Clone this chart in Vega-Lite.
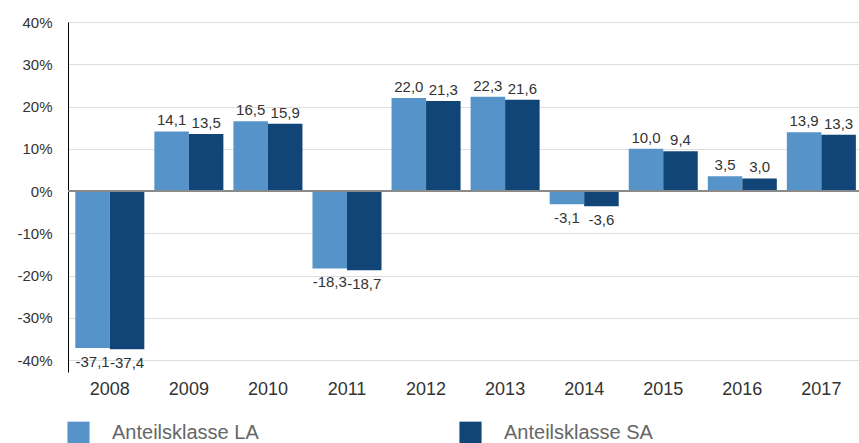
{
  "$schema": "https://vega.github.io/schema/vega-lite/v6.json",
  "width": 791,
  "height": 350,
  "autosize": {"type": "none"},
  "padding": {"left": 68, "top": 22, "right": 0, "bottom": 71},
  "config": {
    "view": {"stroke": null},
    "font": "Liberation Sans",
    "locale": {"number": {"decimal": ",", "thousands": ".", "grouping": [3], "currency": ["", " €"], "minus": "-"}}
  },
  "data": {
    "values": [
      {"jahr": "2008", "klasse": "Anteilsklasse LA", "wert": -37.1},
      {"jahr": "2009", "klasse": "Anteilsklasse LA", "wert": 14.1},
      {"jahr": "2010", "klasse": "Anteilsklasse LA", "wert": 16.5},
      {"jahr": "2011", "klasse": "Anteilsklasse LA", "wert": -18.3},
      {"jahr": "2012", "klasse": "Anteilsklasse LA", "wert": 22.0},
      {"jahr": "2013", "klasse": "Anteilsklasse LA", "wert": 22.3},
      {"jahr": "2014", "klasse": "Anteilsklasse LA", "wert": -3.1},
      {"jahr": "2015", "klasse": "Anteilsklasse LA", "wert": 10.0},
      {"jahr": "2016", "klasse": "Anteilsklasse LA", "wert": 3.5},
      {"jahr": "2017", "klasse": "Anteilsklasse LA", "wert": 13.9},
      {"jahr": "2008", "klasse": "Anteilsklasse SA", "wert": -37.4},
      {"jahr": "2009", "klasse": "Anteilsklasse SA", "wert": 13.5},
      {"jahr": "2010", "klasse": "Anteilsklasse SA", "wert": 15.9},
      {"jahr": "2011", "klasse": "Anteilsklasse SA", "wert": -18.7},
      {"jahr": "2012", "klasse": "Anteilsklasse SA", "wert": 21.3},
      {"jahr": "2013", "klasse": "Anteilsklasse SA", "wert": 21.6},
      {"jahr": "2014", "klasse": "Anteilsklasse SA", "wert": -3.6},
      {"jahr": "2015", "klasse": "Anteilsklasse SA", "wert": 9.4},
      {"jahr": "2016", "klasse": "Anteilsklasse SA", "wert": 3.0},
      {"jahr": "2017", "klasse": "Anteilsklasse SA", "wert": 13.3}
    ]
  },
  "encoding": {
    "x": {
      "field": "jahr", "type": "nominal",
      "scale": {"paddingInner": 0.127, "paddingOuter": 0.066, "align": 0.7},
      "axis": {"title": null, "domain": false, "ticks": false, "labelAngle": 0, "labelFontSize": 18, "labelColor": "#333", "labelPadding": 8}
    },
    "xOffset": {"field": "klasse", "type": "nominal", "sort": ["Anteilsklasse LA", "Anteilsklasse SA"]},
    "y": {
      "field": "wert", "type": "quantitative",
      "scale": {"domain": [-42.8, 40], "nice": false, "zero": false},
      "axis": {"title": null, "values": [-40, -30, -20, -10, 0, 10, 20, 30, 40], "labelExpr": "datum.value + '%'", "ticks": false, "domainColor": "#000", "domainWidth": 1, "gridColor": "#dedede", "gridWidth": 1, "labelFontSize": 15, "labelColor": "#333", "labelPadding": 16}
    }
  },
  "layer": [
    {
      "mark": {"type": "bar"},
      "encoding": {
        "y2": {"datum": 0},
        "color": {
          "field": "klasse", "type": "nominal",
          "scale": {"domain": ["Anteilsklasse LA", "Anteilsklasse SA"], "range": ["#5593c9", "#114578"]},
          "legend": {
            "title": null, "orient": "none", "legendX": -1, "legendY": 399, "direction": "horizontal", "columns": 2,
            "symbolType": "square", "symbolSize": 490, "symbolStrokeWidth": 0, "symbolOpacity": 1,
            "labelFontSize": 20, "labelColor": "#666", "labelOffset": 22, "columnPadding": 200, "padding": 0, "labelLimit": 300
          }
        }
      }
    },
    {
      "transform": [{"filter": "datum.wert >= 0"}],
      "mark": {"type": "text", "baseline": "alphabetic", "dy": -6, "fontSize": 15, "color": "#333"},
      "encoding": {"text": {"field": "wert", "type": "quantitative", "format": ".1f"}}
    },
    {
      "transform": [{"filter": "datum.wert < 0"}],
      "mark": {"type": "text", "baseline": "alphabetic", "dy": 19, "fontSize": 15, "color": "#333"},
      "encoding": {"text": {"field": "wert", "type": "quantitative", "format": ".1f"}}
    },
    {
      "mark": {"type": "rule", "color": "#8a8a8a", "strokeWidth": 1.5},
      "encoding": {"y": {"datum": 0}, "x": null, "xOffset": null}
    }
  ]
}
